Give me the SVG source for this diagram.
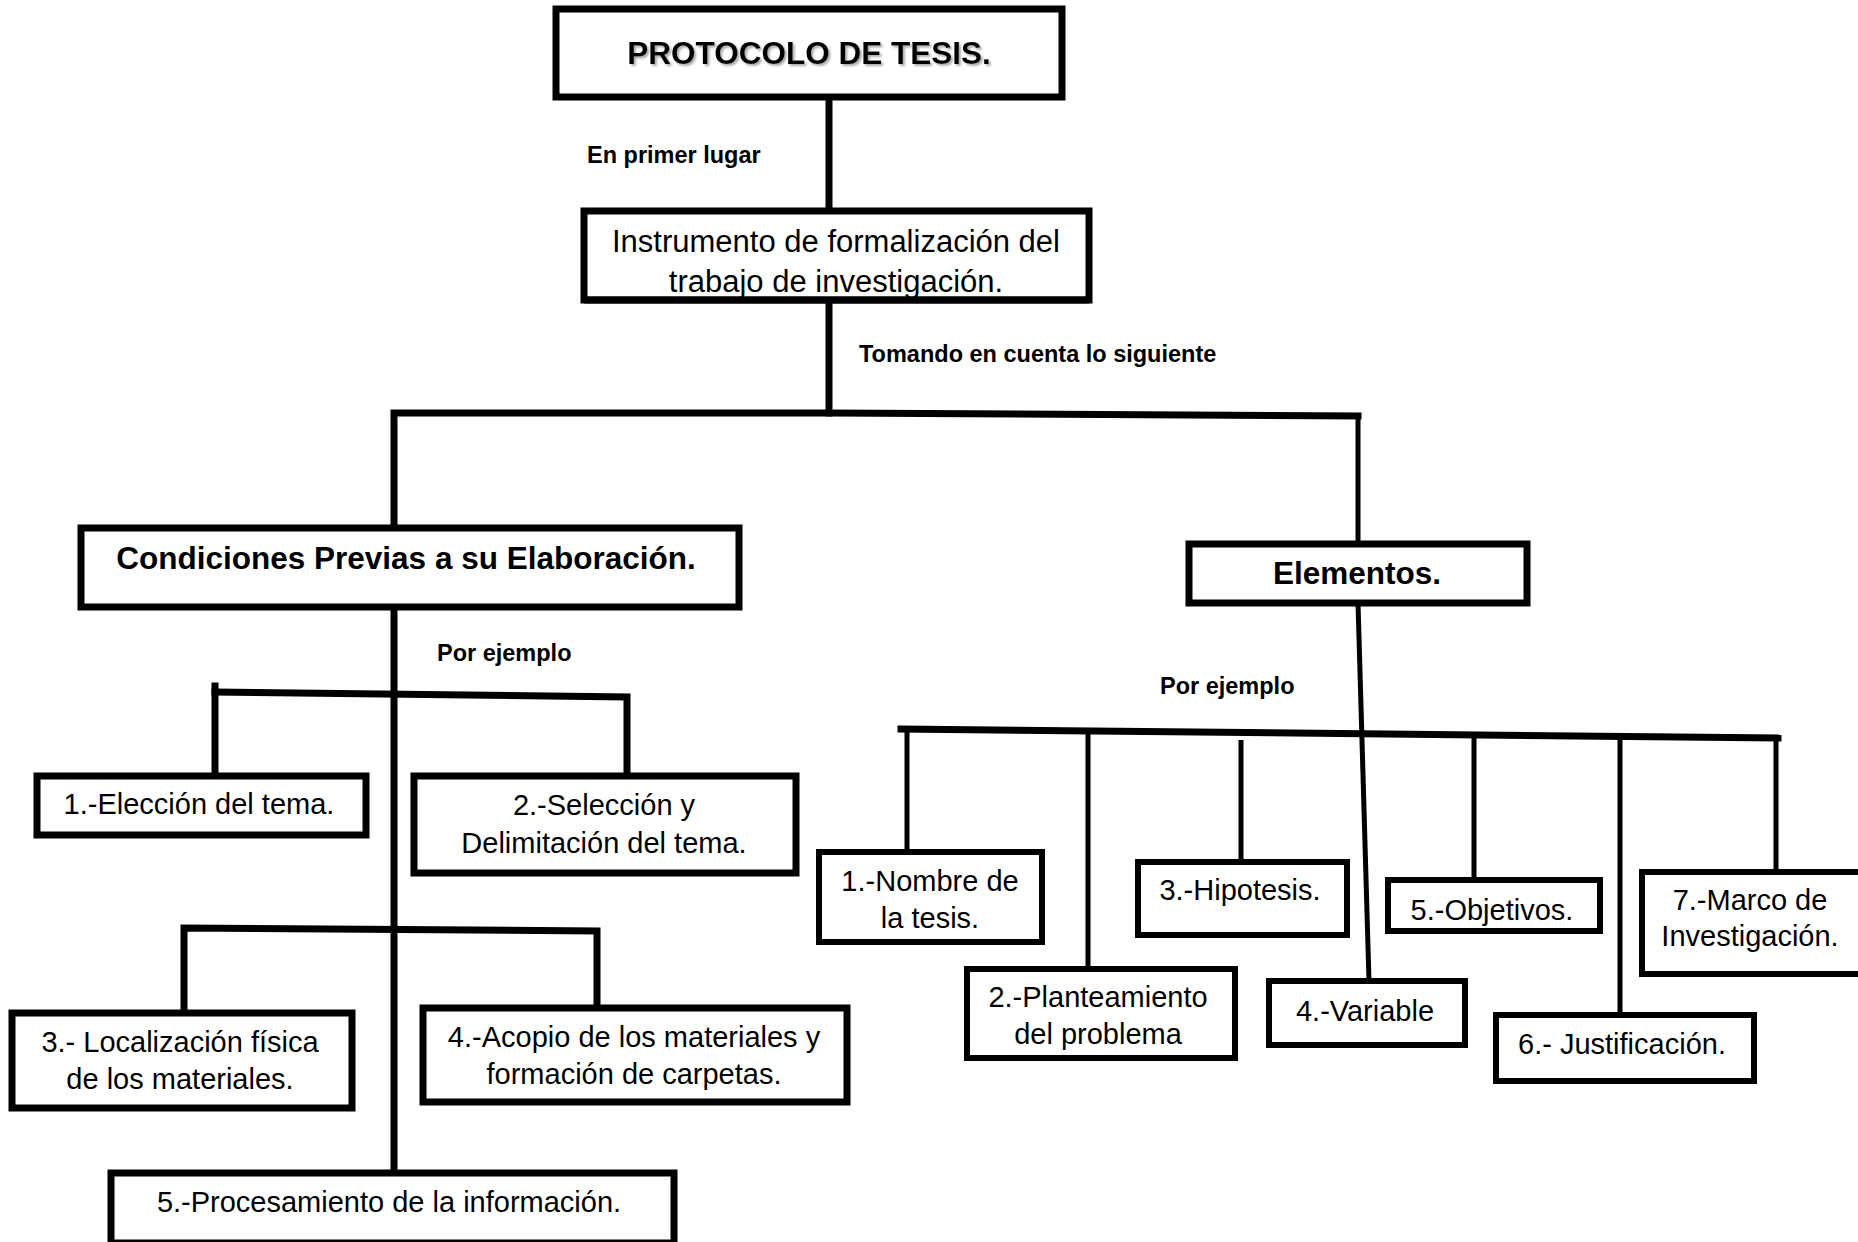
<svg xmlns="http://www.w3.org/2000/svg" width="1858" height="1242" viewBox="0 0 1858 1242">
<defs>
<filter id="sh" x="-5%" y="-20%" width="110%" height="140%"><feDropShadow dx="2" dy="2" stdDeviation="1" flood-color="#888" flood-opacity="0.7"/></filter>
</defs>
<style>
.box{fill:#fff;stroke:#000;stroke-width:7}
.bx{fill:#fff;stroke:#000;stroke-width:6}
.t{font-family:"Liberation Sans",Arial,sans-serif;font-size:29px;fill:#000;text-anchor:middle}
.b{font-family:"Liberation Sans",Arial,sans-serif;font-weight:bold;font-size:31.5px;fill:#000;text-anchor:middle}
.s{font-family:"Liberation Sans",Arial,sans-serif;font-weight:bold;font-size:23.5px;fill:#000}
.c{fill:none;stroke:#000;stroke-width:7;stroke-linecap:square}
.c2{fill:none;stroke:#000;stroke-width:5}
</style>
<rect width="1858" height="1242" fill="#fff"/>
<g id="connectors">
<line class="c" x1="829" y1="97" x2="829" y2="211"/>
<line class="c" x1="829" y1="300" x2="829" y2="413"/>
<polyline class="c" points="394,527 394,413 829,413 1358,416"/>
<line class="c2" x1="1358" y1="416" x2="1358" y2="544"/>
<line class="c" x1="394" y1="600" x2="394" y2="1173"/>
<polyline class="c" points="215,776 215,686"/>
<polyline class="c" points="215,692 627,697 627,776"/>
<polyline class="c" points="184,1013 184,928 597,931 597,1008"/>
<line class="c2" x1="1358" y1="603" x2="1369" y2="981"/>
<line class="c" x1="901" y1="729" x2="1778" y2="738"/>
<line class="c2" x1="907" y1="730" x2="907" y2="852"/>
<line class="c2" x1="1088" y1="732" x2="1088" y2="969"/>
<line class="c2" x1="1241" y1="740" x2="1241" y2="862"/>
<line class="c2" x1="1474" y1="736" x2="1474" y2="880"/>
<line class="c2" x1="1620" y1="737" x2="1620" y2="1014"/>
<line class="c2" x1="1776" y1="737" x2="1776" y2="872"/>
</g>
<g id="n-protocolo">
<rect class="box" x="556" y="9" width="506" height="88"/>
<text class="b" x="809" y="64" filter="url(#sh)">PROTOCOLO DE TESIS.</text>
</g>
<g id="l-primer"><text class="s" x="587" y="163">En primer lugar</text></g>
<g id="n-instrumento">
<rect class="box" x="584" y="211" width="505" height="89"/>
<text class="t" x="836" y="252" style="font-size:31px">Instrumento de formalización del</text>
<text class="t" x="836" y="292" style="font-size:31px">trabajo de investigación.</text>
<line x1="584" y1="300" x2="1089" y2="300" stroke="#000" stroke-width="7"/>
</g>
<g id="l-tomando"><text class="s" x="859" y="362">Tomando en cuenta lo siguiente</text></g>
<g id="n-condiciones">
<rect class="box" x="81" y="528" width="658" height="79"/>
<text class="b" x="406" y="569">Condiciones Previas a su Elaboración.</text>
</g>
<g id="n-elementos">
<rect class="box" x="1189" y="544" width="338" height="59"/>
<text class="b" x="1357" y="584">Elementos.</text>
</g>
<g id="l-ej1"><text class="s" x="437" y="661">Por ejemplo</text></g>
<g id="l-ej2"><text class="s" x="1160" y="694">Por ejemplo</text></g>
<g id="n-c1">
<rect class="box" x="37" y="776" width="329" height="59"/>
<text class="t" x="199" y="814">1.-Elección del tema.</text>
</g>
<g id="n-c2">
<rect class="box" x="414" y="776" width="382" height="97"/>
<text class="t" x="604" y="815">2.-Selección y</text>
<text class="t" x="604" y="853">Delimitación del tema.</text>
</g>
<g id="n-c3">
<rect class="box" x="12" y="1013" width="340" height="95"/>
<text class="t" x="180" y="1052">3.- Localización física</text>
<text class="t" x="180" y="1089">de los materiales.</text>
</g>
<g id="n-c4">
<rect class="box" x="423" y="1008" width="424" height="94"/>
<text class="t" x="634" y="1047">4.-Acopio de los materiales y</text>
<text class="t" x="634" y="1084">formación de carpetas.</text>
</g>
<g id="n-c5">
<rect class="box" x="111" y="1173" width="563" height="70"/>
<text class="t" x="389" y="1212">5.-Procesamiento de la información.</text>
</g>
<g id="n-e1">
<rect class="bx" x="819" y="852" width="223" height="90"/>
<text class="t" x="930" y="891">1.-Nombre de</text>
<text class="t" x="930" y="928">la tesis.</text>
</g>
<g id="n-e2">
<rect class="bx" x="967" y="969" width="268" height="89"/>
<text class="t" x="1098" y="1007">2.-Planteamiento</text>
<text class="t" x="1098" y="1044">del problema</text>
</g>
<g id="n-e3">
<rect class="bx" x="1138" y="862" width="209" height="73"/>
<text class="t" x="1240" y="900">3.-Hipotesis.</text>
</g>
<g id="n-e4">
<rect class="bx" x="1269" y="981" width="196" height="64"/>
<text class="t" x="1365" y="1021">4.-Variable</text>
</g>
<g id="n-e5">
<rect class="bx" x="1388" y="880" width="212" height="51"/>
<text class="t" x="1492" y="920">5.-Objetivos.</text>
</g>
<g id="n-e6">
<rect class="bx" x="1496" y="1015" width="258" height="66"/>
<text class="t" x="1622" y="1054">6.- Justificación.</text>
</g>
<g id="n-e7">
<rect class="bx" x="1642" y="872" width="222" height="102"/>
<text class="t" x="1750" y="910">7.-Marco de</text>
<text class="t" x="1750" y="946">Investigación.</text>
</g>
</svg>
